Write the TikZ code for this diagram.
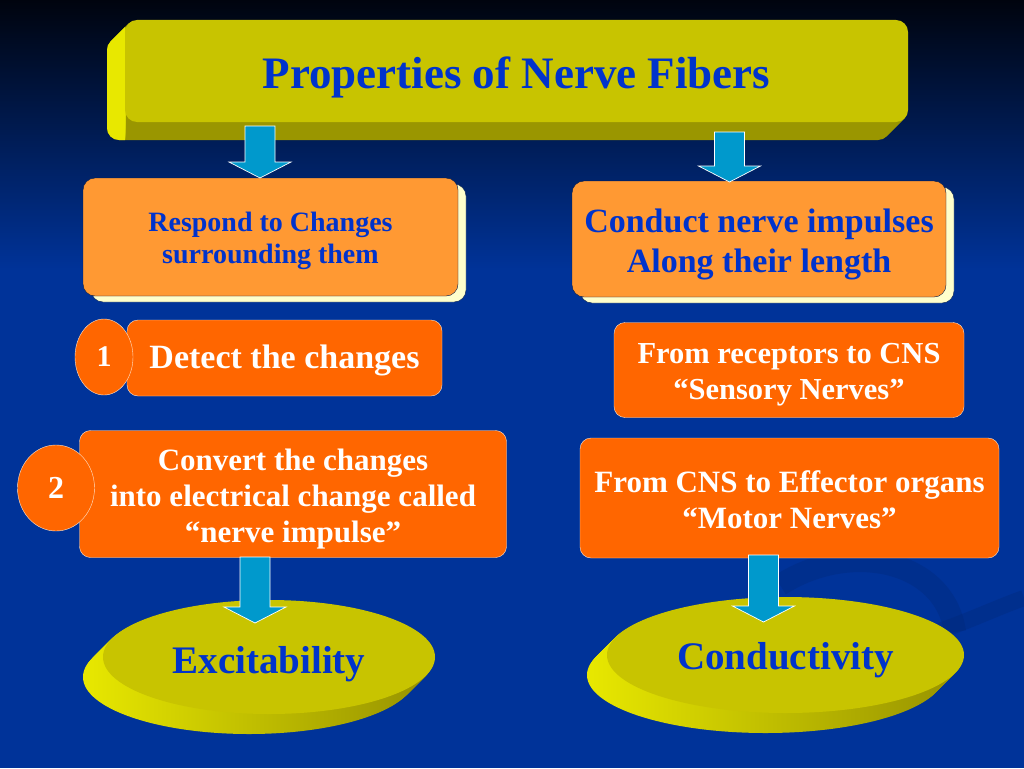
\documentclass[tikz,border=0pt]{standalone}
\usepackage{fontspec}
\setmainfont{Liberation Serif}
\usetikzlibrary{calc,shapes.geometric,shadows}
\definecolor{bgblue}{HTML}{003399}
\definecolor{bgtop}{HTML}{00040E}
\definecolor{olive}{HTML}{C8C400}
\definecolor{olivedark}{HTML}{9A9600}
\definecolor{olivelight}{HTML}{E8E800}
\definecolor{inkblue}{HTML}{0033CC}
\definecolor{paleorange}{HTML}{FF9933}
\definecolor{deeporange}{HTML}{FF6600}
\definecolor{cream}{HTML}{FFFFCC}
\definecolor{arrowcyan}{HTML}{0099CC}
\tikzset{
  softbox/.style={fill=paleorange,draw=bgblue!50!black,rounded corners=12,text=inkblue,align=center,inner sep=0pt,
    drop shadow={shadow xshift=8pt,shadow yshift=-6pt,opacity=1,fill=cream,draw=bgblue!50!black}},
  hotbox/.style={fill=deeporange,draw=white!80!orange,rounded corners=11,text=white,align=center,inner sep=0pt},
  numdisc/.style={ellipse,fill=deeporange,draw=white!80!orange,text=white,inner sep=0pt},
  bigfat/.style={fill=arrowcyan,draw=white,line width=0.7pt},
  disc/.style={ellipse,fill=olive,inner sep=0pt,text=inkblue,font=\fontsize{39}{44}\selectfont\bfseries},
}
\newcommand{\blockarrow}[2]{%
  \path[bigfat] let \p1=(#1),\p2=(#2) in
    (\x1-15pt,\y1) -- (\x1+15pt,\y1) -- (\x1+15pt,\y2+16pt) -- (\x1+31pt,\y2+16pt)
    -- (\x1,\y2) -- (\x1-31pt,\y2+16pt) -- (\x1-15pt,\y2+16pt) -- cycle;}
\begin{document}
\begin{tikzpicture}[x=1pt,y=-1pt]
  \useasboundingbox (0,0) rectangle (1024,768);
  \fill[bgblue] (0,0) rectangle (1024,768);
  \shade[top color=bgtop,bottom color=bgblue] (0,0) rectangle (1024,270);
  \draw[bgblue!75!black,line width=22pt,opacity=0.3] (780,585) .. controls (850,540) and (945,560) .. (955,632);
  \draw[bgblue!75!black,line width=16pt,opacity=0.3] (905,642) .. controls (955,628) and (990,610) .. (1024,598);

  \foreach \d in {1,...,18}
    \fill[olivedark,rounded corners=12] (125-\d,20+\d) rectangle (908-\d,122+\d);
  \begin{scope}
    \clip (0,0) rectangle (125,170);
    \foreach \d in {1,...,18}
      \fill[olivelight,rounded corners=12] (125-\d,20+\d) rectangle (908-\d,122+\d);
  \end{scope}
  \node[fill=olive,rounded corners=12,minimum width=783,minimum height=102,text=inkblue,text height=45pt,
    font=\fontsize{45}{54}\selectfont\bfseries] (title) at (516.5,71) {Properties of Nerve Fibers};

  \node[softbox,minimum width=375,minimum height=118,text height=59pt,font=\fontsize{28}{32}\selectfont\bfseries]
    (respond) at (270.5,237) {Respond to Changes\\surrounding them};
  \node[softbox,minimum width=374,minimum height=116,text height=75pt,font=\fontsize{34}{40}\selectfont\bfseries]
    (conduct) at (759,239) {Conduct nerve impulses\\Along their length};

  \node[hotbox,minimum width=315,minimum height=76,text height=29pt,font=\fontsize{34}{40}\selectfont\bfseries]
    (detect) at (284.5,358) {Detect the changes};
  \node[numdisc,minimum width=58,minimum height=76,font=\fontsize{30}{34}\selectfont\bfseries]
    (one) at (104,357) {1};
  \node[hotbox,minimum width=427,minimum height=127,text height=103pt,font=\fontsize{31}{36}\selectfont\bfseries]
    (convert) at (293,494) {Convert the changes\\into electrical change called\\“nerve impulse”};
  \node[numdisc,minimum width=77,minimum height=86,font=\fontsize{32}{36}\selectfont\bfseries]
    (two) at (56,488) {2};
  \node[hotbox,minimum width=350,minimum height=95,text height=66pt,font=\fontsize{30.5}{36}\selectfont\bfseries]
    (sensory) at (789,370) {From receptors to CNS\\“Sensory Nerves”};
  \node[hotbox,minimum width=419,minimum height=120,text height=61pt,font=\fontsize{31}{36}\selectfont\bfseries]
    (motor) at (789.5,498) {From CNS to Effector organs\\“Motor Nerves”};

  \foreach \d in {1,...,20}
    \shade[left color=olivelight,right color=olivedark] (269-\d,657+\d) ellipse [x radius=166,y radius=57];
  \node[disc,minimum width=332,minimum height=114,text height=41pt] (excite) at (269,657) {Excitability};
  \foreach \d in {1,...,20}
    \shade[left color=olivelight,right color=olivedark] (785.5-\d,655+\d) ellipse [x radius=178.5,y radius=58];
  \node[disc,minimum width=357,minimum height=116,text height=38pt] (conductivity) at (785.5,655) {Conductivity};

  \coordinate (a1) at (260,126);
  \coordinate (a2) at (260,178);
  \coordinate (b1) at (729.5,132);
  \coordinate (b2) at (729.5,182);
  \coordinate (c1) at (255,557);
  \coordinate (c2) at (255,623);
  \coordinate (d1) at (763.5,555);
  \coordinate (d2) at (763.5,622);
  \blockarrow{a1}{a2}
  \blockarrow{b1}{b2}
  \blockarrow{c1}{c2}
  \blockarrow{d1}{d2}
\end{tikzpicture}
\end{document}
